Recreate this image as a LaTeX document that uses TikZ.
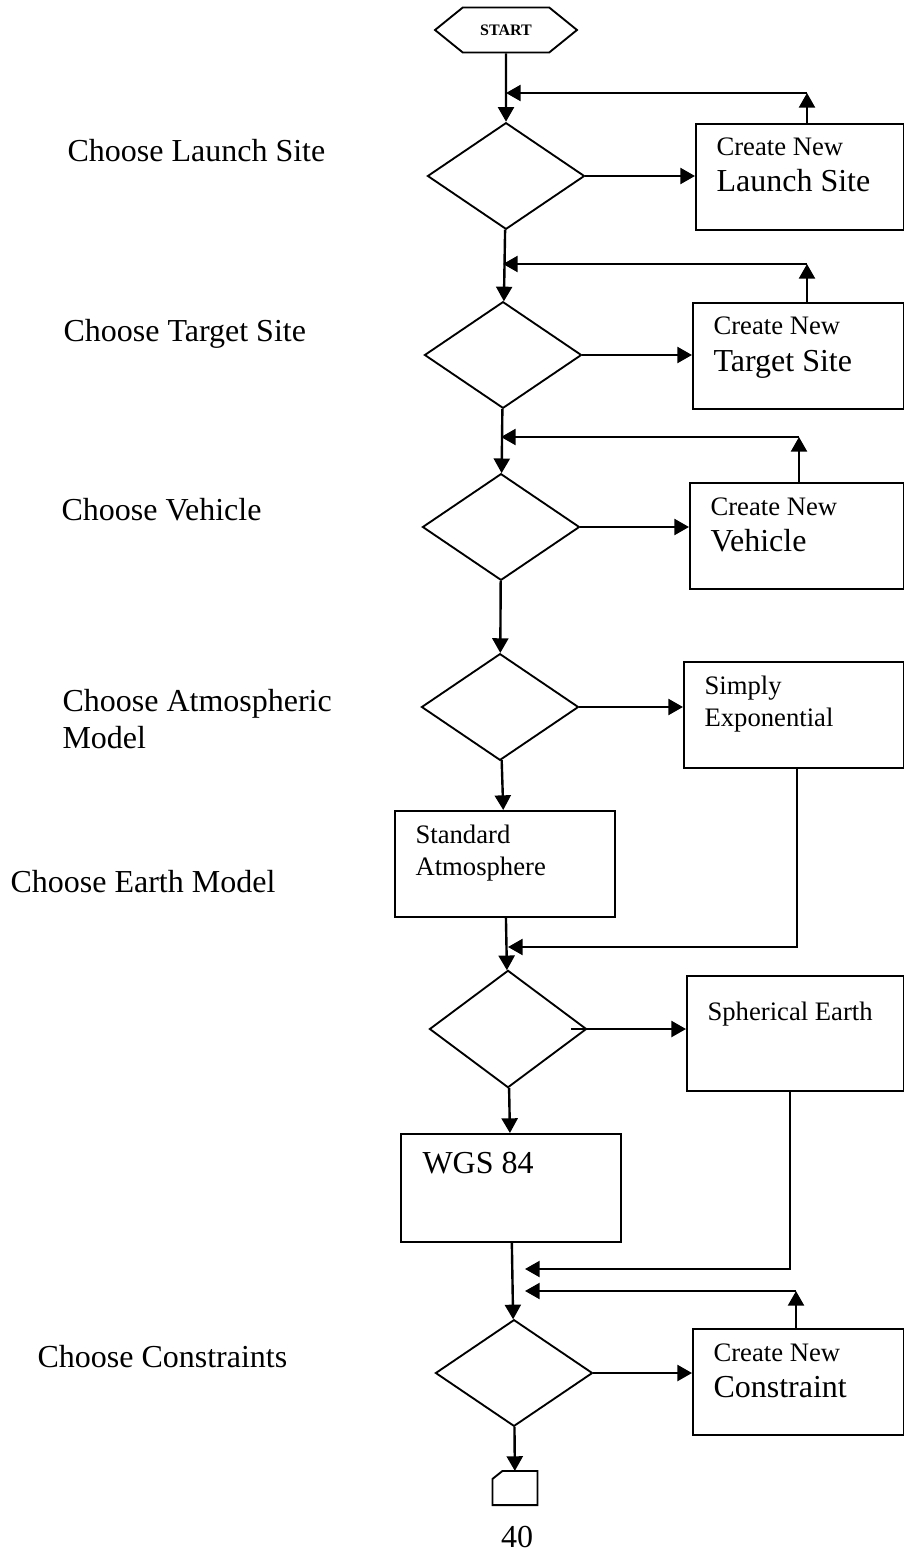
\documentclass[tikz,border=0pt]{standalone}
\usepackage{fontspec}
\setmainfont{Liberation Serif}
\usetikzlibrary{shapes.geometric,shapes.symbols,arrows.meta}

\begin{document}
\begin{tikzpicture}[x=0.375pt,y=-0.375pt,
  flow/.style={draw,line width=0.9pt,-{Triangle[length=5.5pt,width=6pt]}},
  choice/.style={draw,diamond,line width=0.7pt,inner sep=0pt,minimum width=58.9pt,minimum height=40pt},
  box/.style={draw,rectangle,line width=0.7pt,inner sep=0pt,anchor=north west,minimum height=39.75pt},
  hexa/.style={draw,signal,signal to=west and east,signal pointer angle=78,line width=0.7pt,minimum width=53.25pt,minimum height=16.9pt,inner sep=0pt,font=\fontsize{6}{7}\selectfont\bfseries},
  pagecon/.style={rectangle,minimum width=16.5pt,minimum height=12.4pt,inner sep=0pt},
  sidetext/.style={anchor=base west,inner sep=0pt,align=left,font=\fontsize{12}{13.8}\selectfont},
  boxsmall/.style={anchor=base west,inner sep=0pt,align=left,font=\fontsize{10}{12}\selectfont},
  boxbig/.style={anchor=base west,inner sep=0pt,font=\fontsize{12}{13.8}\selectfont}]
\useasboundingbox (0,0) rectangle (904,1551);
\node[hexa] (start) at (506,30) {START};
\node[choice] (d1) at (506,176) {};
\node[choice] (d2) at (503,355) {};
\node[choice] (d3) at (501,527) {};
\node[choice] (d4) at (500,707) {};
\node[choice,minimum height=44pt] (d5) at (508,1029) {};
\node[choice] (d6) at (514,1373) {};
\node[box,minimum width=78pt] (b1) at (695,123) {};
\node[box,minimum width=79.1pt] (b2) at (692,302) {};
\node[box,minimum width=80.25pt] (b3) at (689,482) {};
\node[box,minimum width=82.5pt] (b4) at (683,661) {};
\node[box,minimum width=82.5pt] (std) at (394,810) {};
\node[box,minimum width=81.4pt,minimum height=43.1pt] (b5) at (686,975) {};
\node[box,minimum width=82.5pt,minimum height=40.5pt] (wgs) at (400,1133) {};
\node[box,minimum width=79.1pt] (b6) at (692,1328) {};
\node[pagecon] (conn) at (515,1488) {};
\draw[line width=0.7pt] (conn.south west) -- ([yshift=-3pt]conn.north west) -- ([xshift=3.75pt]conn.north west) -- (conn.north east) -- (conn.south east) -- cycle;
\node[boxsmall] (t1a) at (716,156) {Create New};
\node[boxbig] (t1b) at (716,192) {Launch Site};
\node[boxsmall] (t2a) at (713,335) {Create New};
\node[boxbig] (t2b) at (713,371) {Target Site};
\node[boxsmall] (t3a) at (710,515) {Create New};
\node[boxbig] (t3b) at (710,551) {Vehicle};
\node[boxsmall] (t4a) at (704,694) {Simply};
\node[boxsmall] (t4b) at (704,726) {Exponential};
\node[boxsmall] (tsa) at (415,843) {Standard};
\node[boxsmall] (tsb) at (415,875) {Atmosphere};
\node[boxsmall] (t5) at (707,1020) {Spherical Earth};
\node[boxbig] (tw) at (422,1173) {WGS 84};
\node[boxsmall] (t6a) at (713,1361) {Create New};
\node[boxbig] (t6b) at (713,1397) {Constraint};
\node[sidetext] (l1) at (67,162) {Choose Launch Site};
\node[sidetext] (l2) at (63,342) {Choose Target Site};
\node[sidetext] (l3) at (61,520) {Choose Vehicle};
\node[sidetext] (l4) at (62,748) {Choose Atmospheric\\Model};
\node[sidetext] (l5) at (10,892) {Choose Earth Model};
\node[sidetext] (l6) at (37,1367) {Choose Constraints};
\node[boxbig,anchor=base] (page) at (517,1547) {40};
\path[flow] (start) -- (d1);
\path[flow] (d1) -- (d2);
\path[flow] (d2) -- (d3);
\path[flow] (d3) -- (d4);
\path[flow] (d4) -- (std);
\path[flow] (std) -- (d5);
\path[flow] (d5) -- (wgs);
\path[flow] (wgs) -- (d6);
\path[flow] (d6) -- (conn);
\path[flow] (d1.east) -- (d1.east -| b1.west);
\path[flow] (d2.east) -- (d2.east -| b2.west);
\path[flow] (d3.east) -- (d3.east -| b3.west);
\path[flow] (d4.east) -- (d4.east -| b4.west);
\path[flow] ([xshift=-6pt]d5.east) -- (d5.east -| b5.west);
\path[flow] (d6.east) -- (d6.east -| b6.west);
\coordinate (up1) at (807,93);
\coordinate (up2) at (807,264);
\coordinate (up3) at (799,437);
\coordinate (up6) at (796,1291);
\coordinate (join6) at (525,1291);
\path[flow] (b1.north -| up1) -- (up1);
\path[flow] (up1) -- (up1 -| start);
\path[flow] (b2.north -| up2) -- (up2);
\path[flow] (up2) -- (up2 -| d2);
\path[flow] (b3.north -| up3) -- (up3);
\path[flow] (up3) -- (up3 -| d3);
\path[flow] (b6.north -| up6) -- (up6);
\path[flow] (up6) -- (join6);
\coordinate (back4) at (797,947);
\coordinate (back5) at (790,1269);
\coordinate (join5) at (525,1269);
\path[flow] (b4.south -| back4) -- (back4) -- (back4 -| d5);
\path[flow] (b5.south -| back5) -- (back5) -- (join5);
\end{tikzpicture}
\end{document}
